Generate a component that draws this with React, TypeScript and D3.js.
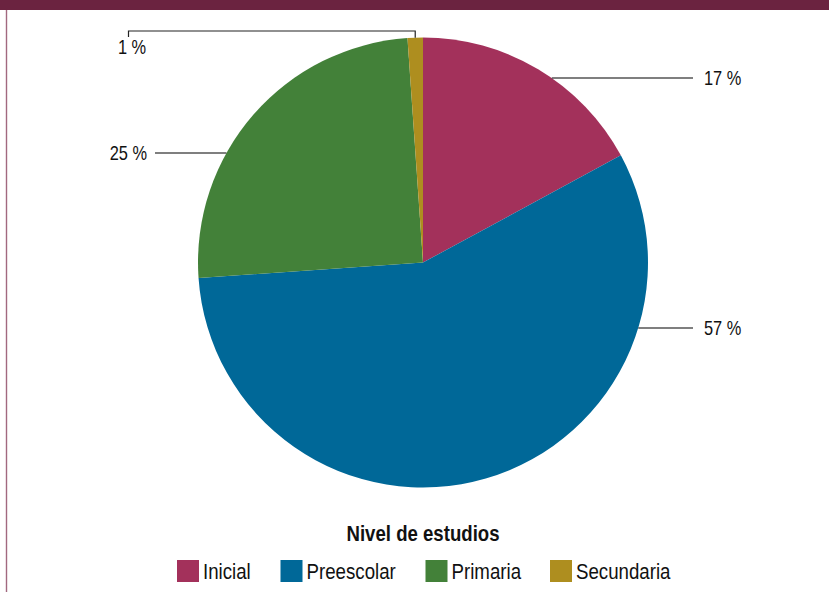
import React from "react";
import * as d3 from "d3";

const categories = ["Inicial", "Preescolar", "Primaria", "Secundaria"];
const values = [17.1, 56.8, 25.0, 1.1];
const labels = ["17 %", "57 %", "25 %", "1 %"];
const colors = ["#A3315B", "#006898", "#438139", "#AE8E1F"];
const legendTitle = "Nivel de estudios";

const W = 829;
const H = 592;
const cx = 423;
const cy = 262.5;
const R = 225;
const FONT = "'Liberation Sans', Arial, sans-serif";
const SX = 0.82; // horizontal condensing of text
const labelY = [78, 328, 153];

type TProps = {
  x: number;
  y: number;
  size: number;
  anchor?: "start" | "middle" | "end";
  bold?: boolean;
  children: React.ReactNode;
};

function NText({ x, y, size, anchor = "start", bold = false, children }: TProps) {
  return (
    <g transform={`translate(${x},${y}) scale(${SX},1)`}>
      <text
        x={0}
        y={0}
        dy="0.35em"
        fontSize={size}
        fontWeight={bold ? "bold" : "normal"}
        textAnchor={anchor}
        fill="#111"
      >
        {children}
      </text>
    </g>
  );
}

export default function App() {
  const pie = d3.pie<number>().sort(null).value((d) => d)(values);
  const arc = d3.arc<d3.PieArcDatum<number>>().innerRadius(0).outerRadius(R);

  const edgeX = (y: number, side: number) =>
    cx + side * Math.sqrt(Math.max(0, R * R - (y - cy) * (y - cy)));

  const legendX = [177, 280.5, 425.5, 550];

  const small = pie[3];
  const mid = (small.startAngle + small.endAngle) / 2;
  const bx = cx + R * Math.sin(mid);
  const by = cy - R * Math.cos(mid);

  return (
    <svg
      width={W}
      height={H}
      style={{ position: "absolute", left: 0, top: 0, background: "#fff" }}
      fontFamily={FONT}
    >
      <rect x={0} y={0} width={W} height={10} fill="#6B2340" />
      <line x1={6.5} y1={10} x2={6.5} y2={H} stroke="#A2687F" strokeWidth={1.4} />
      <g transform={`translate(${cx},${cy})`}>
        {pie.map((p, i) => (
          <path key={i} d={arc(p) || ""} fill={colors[i]} />
        ))}
      </g>
      {[0, 1].map((i) => (
        <g key={i}>
          <line x1={edgeX(labelY[i], 1)} y1={labelY[i]} x2={693} y2={labelY[i]} stroke="#000" strokeWidth={1.2} />
          <NText x={704} y={labelY[i]} size={20}>
            {labels[i]}
          </NText>
        </g>
      ))}
      <line x1={155} y1={labelY[2]} x2={edgeX(labelY[2], -1)} y2={labelY[2]} stroke="#000" strokeWidth={1.2} />
      <NText x={147} y={labelY[2]} size={20} anchor="end">
        {labels[2]}
      </NText>
      <path
        d={`M${bx},${by} L${bx},31 L128.5,31 L128.5,37`}
        fill="none"
        stroke="#222"
        strokeWidth={1.2}
      />
      <NText x={132} y={47} size={20} anchor="middle">
        {labels[3]}
      </NText>
      <NText x={423} y={533} size={22.7} anchor="middle" bold>
        {legendTitle}
      </NText>
      {categories.map((c, i) => (
        <g key={c}>
          <rect x={legendX[i]} y={560} width={22} height={22} fill={colors[i]} />
          <NText x={legendX[i] + 26} y={571} size={22.8}>
            {c}
          </NText>
        </g>
      ))}
    </svg>
  );
}
